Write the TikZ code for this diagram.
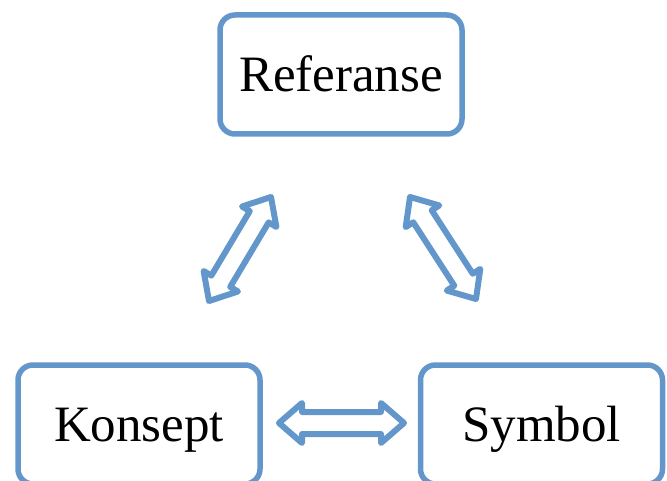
\documentclass[tikz,border=0pt]{standalone}
\usepackage{fontspec}
\setmainfont{Liberation Serif}
\usetikzlibrary{calc}
\definecolor{boxblue}{RGB}{99,150,202}
\tikzset{
  box/.style={draw=boxblue, line width=5.5pt, rounded corners=15pt,
    minimum width=242pt, minimum height=119pt, inner sep=0pt,
    font=\fontsize{51}{60}\selectfont, text height=34pt, text depth=0pt},
  dblarr/.style={draw=boxblue, line width=6pt, line join=round}
}
% hollow two-headed block arrow between two tips
\newcommand\dblarrow[2]{%
  \draw[dblarr] (#1)
    -- ($(#1)!23pt!(#2)!20pt!90:(#2)$) -- ($(#1)!23pt!(#2)!11pt!90:(#2)$)
    -- ($(#2)!23pt!(#1)!11pt!-90:(#1)$) -- ($(#2)!23pt!(#1)!20pt!-90:(#1)$)
    -- (#2)
    -- ($(#2)!23pt!(#1)!20pt!90:(#1)$) -- ($(#2)!23pt!(#1)!11pt!90:(#1)$)
    -- ($(#1)!23pt!(#2)!11pt!-90:(#2)$) -- ($(#1)!23pt!(#2)!20pt!-90:(#2)$)
    -- cycle;}
\begin{document}
\begin{tikzpicture}[x=1pt,y=-1pt]
  \useasboundingbox (0,0) rectangle (667,481);
  \clip (0,0) rectangle (667,481);
  \node[box] (ref) at (341,74.5) {Referanse};
  \node[box] (kon) at (139,424.5) {Konsept};
  \node[box] (sym) at (541.5,424.5) {Symbol};
  % arrow tips
  \coordinate (refL) at (271,197);
  \coordinate (konT) at (209,301);
  \coordinate (refR) at (410,197);
  \coordinate (symT) at (476,299);
  \coordinate (konR) at (279,423);
  \coordinate (symL) at (404,423);
  \dblarrow{refL}{konT}
  \dblarrow{refR}{symT}
  \dblarrow{konR}{symL}
\end{tikzpicture}
\end{document}
